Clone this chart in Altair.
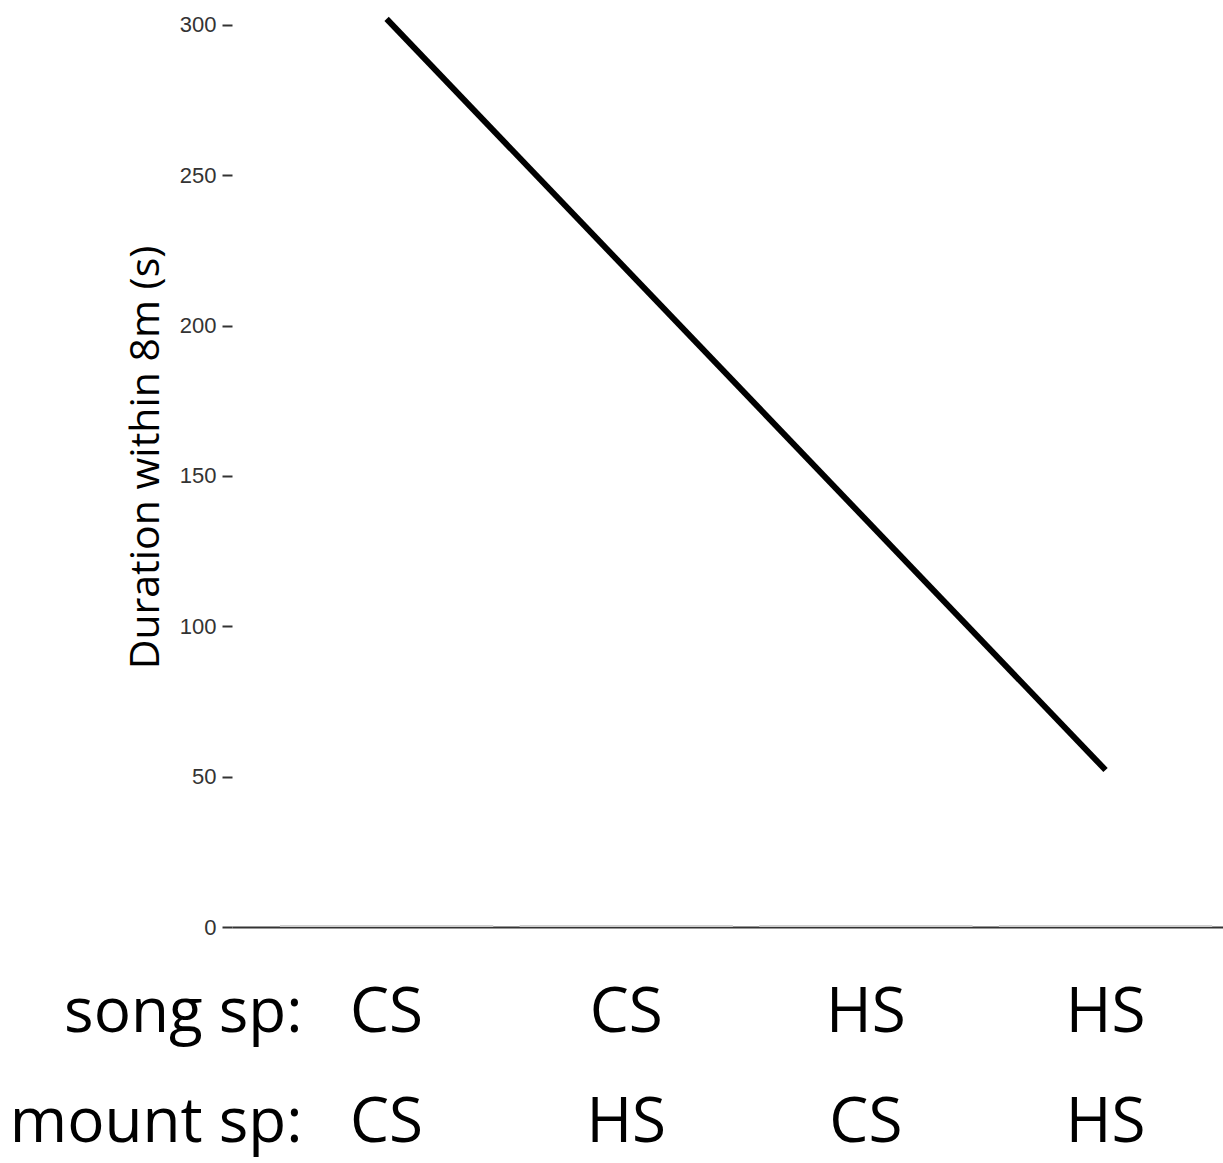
import altair as alt
import pandas as pd

# Data
song_sp = ["CS", "CS", "HS", "HS"]
mount_sp = ["CS", "HS", "CS", "HS"]
bar_values = [0.7, 0.7, 0.7, 0.7]          # near-zero (faint) bars at the baseline
line_groups = ["CS|CS", "HS|HS"]
line_values = [302.0, 52.2]
y_ticks = [0, 50, 100, 150, 200, 250, 300]
row_titles = ["song sp:", "mount sp:"]
y_title = "Duration within 8m (s)"

groups = [f"{s}|{m}" for s, m in zip(song_sp, mount_sp)]
bars = pd.DataFrame({"group": groups, "value": bar_values})
line = pd.DataFrame({"group": line_groups, "value": line_values})

x_scale = alt.Scale(domain=groups, paddingInner=0.11, paddingOuter=0.1226, align=0.816)
y_scale = alt.Scale(domain=[0, 302.3], nice=False, zero=True)

x_axis = alt.Axis(
    title=row_titles,
    labelExpr="split(datum.label, '|')",
    labelFont="Open Sans",
    labelFontSize=62,
    labelColor="black",
    labelLineHeight=110,
    labelPadding=55,
    labelAngle=0,
    labelBaseline="top",
    ticks=False,
    tickSize=0,
    domainColor="#333333",
    domainWidth=2,
    grid=False,
    titleFont="Open Sans",
    titleFontSize=62,
    titleFontWeight="normal",
    titleColor="black",
    titleLineHeight=110,
    titleAlign="right",
    titleBaseline="top",
    titleX=70,
    titleY=55,
    titleAngle=0,
)

y_axis = alt.Axis(
    title=y_title,
    values=y_ticks,
    domain=False,
    grid=False,
    tickSize=10,
    tickWidth=2,
    tickColor="#333333",
    labelFont="Liberation Sans",
    labelFontSize=22,
    labelColor="#333333",
    labelPadding=6,
    titleFont="Open Sans",
    titleFontSize=41,
    titleFontWeight="normal",
    titleColor="black",
    titleAngle=-90,
    titleAlign="center",
    titleBaseline="alphabetic",
    titleX=-74,
    titleY=439,
)

bar_layer = alt.Chart(bars).mark_bar(color="#cfcfcf").encode(
    x=alt.X("group:N", scale=x_scale, axis=x_axis, sort=groups),
    y=alt.Y("value:Q", scale=y_scale, axis=y_axis),
)

line_layer = alt.Chart(line).mark_line(color="black", strokeWidth=6, strokeCap="butt").encode(
    x=alt.X("group:N", scale=x_scale, sort=groups),
    y=alt.Y("value:Q", scale=y_scale),
)

chart = alt.layer(bar_layer, line_layer).properties(
    width=991,
    height=909,
    autosize=alt.AutoSizeParams(type="none"),
    padding={"left": 232, "top": 18, "right": 0, "bottom": 236},
    background="white",
).configure_view(stroke=None)

chart.save("out.html", embed_options={"renderer": "svg", "actions": False})
